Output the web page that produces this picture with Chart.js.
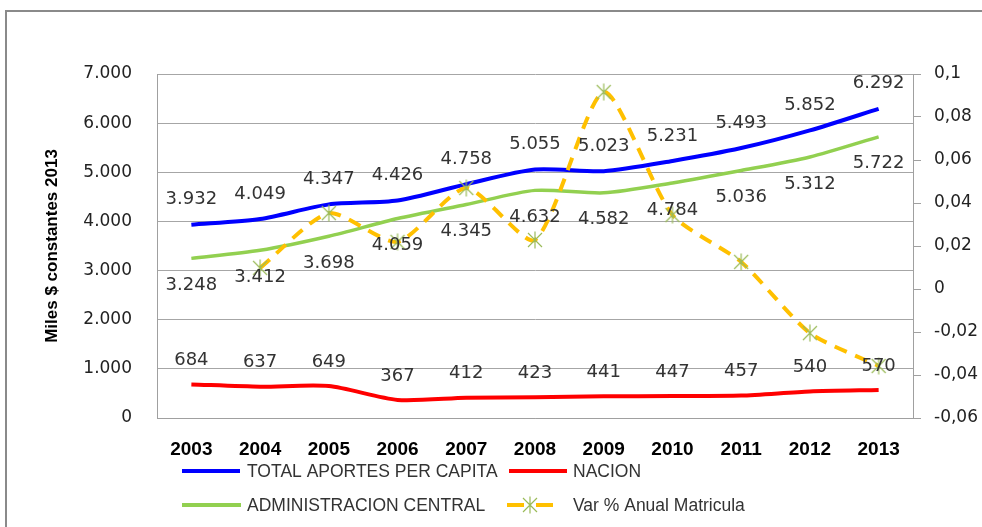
<!DOCTYPE html>
<html><head><meta charset="utf-8">
<script src="https://cdn.jsdelivr.net/npm/chart.js@4.4.1/dist/chart.umd.min.js"></script>
<style>
html,body{margin:0;padding:0;background:#fff;overflow:hidden}
#wrap{position:relative;width:982px;height:527px}
#frame{position:absolute;left:5px;top:10px;width:1000px;height:600px;border:2px solid #8a8a8a;box-sizing:border-box;pointer-events:none}
</style></head><body>
<div id="wrap"><canvas id="c" width="982" height="527"></canvas><div id="frame"></div></div>
<script>
const years = ['2003','2004','2005','2006','2007','2008','2009','2010','2011','2012','2013'];
const totalAportes = [3932,4049,4347,4426,4758,5055,5023,5231,5493,5852,6292];
const nacion = [684,637,649,367,412,423,441,447,457,540,570];
const adminCentral = [3248,3412,3698,4059,4345,4632,4582,4784,5036,5312,5722];
const varMatricula = [null,0.0098,0.0353,0.0219,0.047,0.0228,0.0916,0.0344,0.0126,-0.0205,-0.0358];
const seriesNames = ['TOTAL APORTES PER CAPITA','NACION','ADMINISTRACION CENTRAL','Var % Anual Matricula'];
const axisTitle = 'Miles $ constantes 2013';

function fmtThousands(v){
  const s = String(Math.round(v));
  return s.replace(/\B(?=(\d{3})+(?!\d))/g,'.');
}
function fmtDec(v){
  const r = Math.round(v*100)/100;
  return String(r).replace('.',',');
}

// asterisk marker (X with vertical stroke), Excel style
const starMarker = document.createElement('canvas');
starMarker.width = 18; starMarker.height = 18;
(function(){
  const c = starMarker.getContext('2d');
  c.strokeStyle = '#9bbb59';
  c.lineWidth = 1.2;
  c.beginPath();
  c.moveTo(2,2); c.lineTo(16,16);
  c.moveTo(16,2); c.lineTo(2,16);
  c.moveTo(9,0.5); c.lineTo(9,17.5);
  c.stroke();
})();

const labelPlugin = {
  id:'labels',
  afterDatasetsDraw(chart){
    const ctx = chart.ctx;
    ctx.save();
    ctx.font = '18px "DejaVu Sans"';
    ctx.fillStyle = '#333';
    ctx.textAlign = 'center';
    ctx.textBaseline = 'middle';
    chart.data.datasets.forEach((ds,i)=>{
      if (ds.labelDy === undefined) return;
      const meta = chart.getDatasetMeta(i);
      meta.data.forEach((pt,j)=>{
        const v = ds.data[j];
        if (v == null) return;
        ctx.fillText(fmtThousands(v), pt.x, pt.y + ds.labelDy);
      });
    });
    ctx.restore();
  }
};

const extrasPlugin = {
  id:'extras',
  afterDraw(chart){
    const ctx = chart.ctx;
    ctx.save();
    ctx.translate(52, (chart.chartArea.top + chart.chartArea.bottom)/2);
    ctx.rotate(-Math.PI/2);
    ctx.font = 'bold 17px "Liberation Sans"';
    ctx.fillStyle = '#000';
    ctx.textAlign = 'center';
    ctx.textBaseline = 'middle';
    ctx.fillText(axisTitle, 0, 0);
    ctx.restore();

    const ds = chart.data.datasets;
    const items = [
      {ds:ds[0], x:182, y:471, w:58, tx:247},
      {ds:ds[1], x:509, y:471, w:58, tx:573},
      {ds:ds[2], x:182, y:505, w:59, tx:247},
      {ds:ds[3], x:507, y:505, w:46, tx:573}
    ];
    ctx.save();
    ctx.font = '17.5px "Liberation Sans"';
    ctx.textBaseline = 'middle';
    ctx.textAlign = 'left';
    items.forEach(it=>{
      ctx.strokeStyle = it.ds.borderColor;
      ctx.lineWidth = 4;
      ctx.lineCap = 'butt';
      ctx.beginPath();
      if (it.ds.borderDash){
        const mid = it.x + it.w/2;
        ctx.moveTo(it.x, it.y); ctx.lineTo(mid - 6, it.y);
        ctx.moveTo(mid + 6, it.y); ctx.lineTo(it.x + it.w, it.y);
      } else {
        ctx.moveTo(it.x, it.y);
        ctx.lineTo(it.x + it.w, it.y);
      }
      ctx.stroke();
      if (it.ds.pointStyle === starMarker){
        ctx.drawImage(starMarker, it.x + it.w/2 - 9, it.y - 9);
      }
      ctx.fillStyle = '#333';
      ctx.fillText(it.ds.label, it.tx, it.y + 1);
    });
    ctx.restore();
  }
};

const ctx = document.getElementById('c').getContext('2d');
new Chart(ctx, {
  type:'line',
  data:{
    labels: years,
    datasets:[
      {label:seriesNames[0], data:totalAportes, yAxisID:'y', borderColor:'#0000ff', backgroundColor:'#0000ff', borderWidth:4, pointRadius:0, tension:0.25, labelDy:-25, order:3},
      {label:seriesNames[1], data:nacion, yAxisID:'y', borderColor:'#ff0000', backgroundColor:'#ff0000', borderWidth:4, pointRadius:0, tension:0.25, labelDy:-24, order:2},
      {label:seriesNames[2], data:adminCentral, yAxisID:'y', borderColor:'#92d050', backgroundColor:'#92d050', borderWidth:3.5, pointRadius:0, tension:0.25, labelDy:27, order:4},
      {label:seriesNames[3], data:varMatricula, yAxisID:'y1', borderColor:'#ffc000', backgroundColor:'#ffc000', borderWidth:4, borderDash:[13,9], pointStyle:starMarker, pointRadius:9, tension:0.22, spanGaps:false, order:1}
    ]
  },
  options:{
    responsive:false,
    animation:false,
    devicePixelRatio:1,
    layout:{padding:{top:74,left:0,right:0,bottom:0}},
    plugins:{legend:{display:false}, tooltip:{enabled:false}},
    scales:{
      x:{
        offset:true,
        grid:{display:false, drawTicks:false},
        border:{display:true, color:'#a0a0a0'},
        ticks:{font:{family:'"Liberation Sans"', size:19, weight:'bold'}, color:'#000', padding:20, maxRotation:0, autoSkip:false},
        afterFit(s){ s.height = 109; }
      },
      y:{
        position:'left', min:0, max:7000,
        grid:{color:'#a6a6a6', drawTicks:false, lineWidth:1},
        border:{display:true, color:'#a0a0a0'},
        ticks:{stepSize:1000, font:{family:'"DejaVu Sans"', size:17}, color:'#222', padding:25, callback:v=>fmtThousands(v)},
        afterFit(s){ s.width = 157; }
      },
      y1:{
        position:'right', min:-0.06, max:0.1,
        grid:{drawOnChartArea:false, drawTicks:true, tickLength:8, color:'#a0a0a0'},
        border:{display:true, color:'#a0a0a0'},
        ticks:{stepSize:0.02, font:{family:'"DejaVu Sans"', size:17}, color:'#222', padding:13, callback:v=>fmtDec(v)},
        afterFit(s){ s.width = 69; }
      }
    }
  },
  plugins:[labelPlugin, extrasPlugin]
});
</script>
</body></html>
